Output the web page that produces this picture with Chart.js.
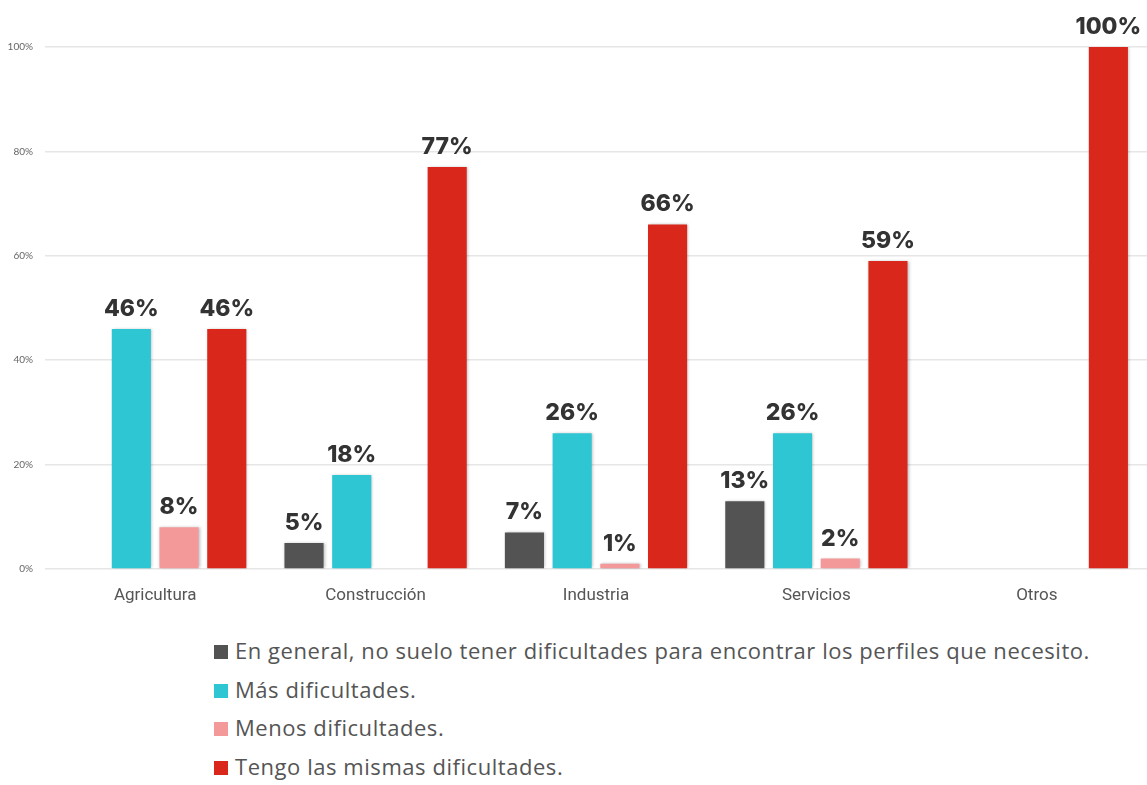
<!DOCTYPE html>
<html lang="es">
<head>
<meta charset="utf-8">
<title>Dificultades para encontrar perfiles por sector</title>
<script src="https://cdn.jsdelivr.net/npm/chart.js@4/dist/chart.umd.min.js"></script>
<style>
  html, body { margin: 0; padding: 0; background: #ffffff; }
  #wrap { position: relative; width: 1147px; height: 620px; }
  #legend { position: absolute; left: 214px; top: 634px; margin: 0; padding: 0; list-style: none;
            font-family: "Open Sans", "Noto Sans", sans-serif; font-size: 22px; letter-spacing: 0.55px; color: #555; }
  #legend li { height: 38.5px; line-height: 32px; white-space: nowrap; }
  #legend .box { display: inline-block; width: 14px; height: 14px; margin-right: 7px; vertical-align: 0px; }
</style>
</head>
<body>
<div id="wrap"><canvas id="chart"></canvas></div>
<ul id="legend"></ul>
<script>
// Sectors and answer shares (%)
const categories = ['Agricultura', 'Construcción', 'Industria', 'Servicios', 'Otros'];
const seriesNames = [
  'En general, no suelo tener dificultades para encontrar los perfiles que necesito.',
  'Más dificultades.',
  'Menos dificultades.',
  'Tengo las mismas dificultades.'
];
const enGeneral = [0, 5, 7, 13, 0];
const masDificultades = [46, 18, 26, 26, 0];
const menosDificultades = [8, 0, 1, 2, 0];
const mismasDificultades = [46, 77, 66, 59, 100];
const yTicks = [0, 20, 40, 60, 80, 100];

const colors = ['#535353', '#2ec6d2', '#f4999a', '#d9281b'];
const values = [enGeneral, masDificultades, menosDificultades, mismasDificultades];

// Value labels above each non-zero bar
const valueLabels = {
  id: 'valueLabels',
  afterDatasetsDraw(chart) {
    const ctx = chart.ctx;
    ctx.save();
    ctx.font = '800 23px Inter, Lato, sans-serif';
    ctx.fillStyle = '#333333';
    ctx.textAlign = 'center';
    ctx.textBaseline = 'alphabetic';
    chart.data.datasets.forEach((ds, i) => {
      const meta = chart.getDatasetMeta(i);
      meta.data.forEach((bar, j) => {
        const v = ds.data[j];
        if (!v) return;
        ctx.fillText(v + '%', bar.x, bar.y - 13);
      });
    });
    ctx.restore();
  }
};

// Soft shadow around the bars
const barShadow = {
  id: 'barShadow',
  beforeDatasetsDraw(chart) {
    const ctx = chart.ctx;
    ctx.save();
    ctx.shadowColor = 'rgba(0,0,0,0.28)';
    ctx.shadowBlur = 3;
    ctx.shadowOffsetX = 1;
    ctx.shadowOffsetY = 0;
  },
  afterDatasetsDraw(chart) {
    chart.ctx.restore();
  }
};

const chart = new Chart(document.getElementById('chart'), {
  type: 'bar',
  data: {
    labels: categories,
    datasets: seriesNames.map((name, i) => ({
      label: name,
      data: values[i],
      backgroundColor: colors[i],
      borderWidth: 0,
      categoryPercentage: 0.866,
      barPercentage: 0.82
    }))
  },
  options: {
    responsive: true,
    maintainAspectRatio: false,
    animation: false,
    layout: { padding: { top: 47, right: 0, bottom: 0, left: 0 } },
    plugins: {
      legend: { display: false },
      tooltip: { enabled: false }
    },
    scales: {
      x: {
        grid: { display: false, drawTicks: false },
        border: { display: false },
        ticks: {
          padding: 17,
          color: '#555555',
          font: { family: 'Roboto, sans-serif', size: 17 }
        },
        afterFit(scale) { scale.height = 51; }
      },
      y: {
        min: 0,
        max: 100,
        afterBuildTicks(scale) { scale.ticks = yTicks.map(v => ({ value: v })); },
        grid: { color: '#e6e6e6', lineWidth: 1.5, drawTicks: false },
        border: { display: false },
        ticks: {
          padding: 12,
          color: '#666666',
          font: { family: 'Lato, sans-serif', size: 10 },
          callback: v => v + '%'
        },
        afterFit(scale) { scale.width = 45; }
      }
    }
  },
  plugins: [barShadow, valueLabels]
});

// Legend, one entry per line
const legend = document.getElementById('legend');
seriesNames.forEach((name, i) => {
  const li = document.createElement('li');
  const box = document.createElement('span');
  box.className = 'box';
  box.style.background = colors[i];
  li.appendChild(box);
  li.appendChild(document.createTextNode(name));
  legend.appendChild(li);
});
</script>
</body>
</html>
